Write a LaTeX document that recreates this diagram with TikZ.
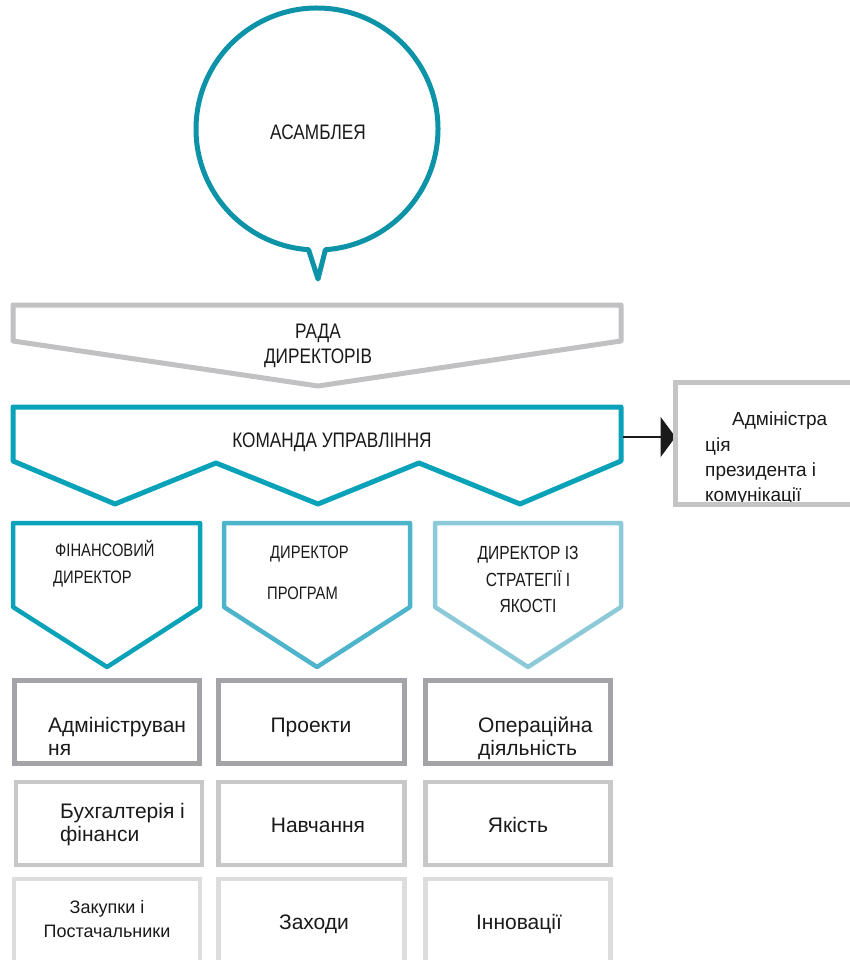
\documentclass[tikz,border=0pt]{standalone}
\usepackage{fontspec}
\setmainfont{Liberation Sans}
\newfontfamily\narrowfont[FakeStretch=0.82]{Liberation Sans}
\usetikzlibrary{arrows.meta}

\definecolor{tealdark}{HTML}{0D93A8}
\definecolor{tealmid}{HTML}{0AA2B9}
\definecolor{teallight}{HTML}{4DB4CB}
\definecolor{tealpale}{HTML}{8CCADA}
\definecolor{greyboard}{HTML}{C1C1C3}
\definecolor{greyrowA}{HTML}{A4A4A8}
\definecolor{greyrowB}{HTML}{C8C8C8}
\definecolor{greyrowC}{HTML}{DDDDDD}
\definecolor{greyside}{HTML}{C4C4C4}
\definecolor{inkcol}{HTML}{1A1A1A}

\tikzset{
  outline/.style={line join=round, line cap=round, fill=white},
  capstext/.style={inner sep=0pt, text=inkcol, font=\narrowfont\fontsize{21}{25}\selectfont},
  headtext/.style={inner sep=0pt, text=inkcol, font=\narrowfont\fontsize{18}{22}\selectfont},
  headtextbig/.style={inner sep=0pt, text=inkcol, font=\narrowfont\fontsize{19}{23}\selectfont},
  unittext/.style={inner sep=0pt, text=inkcol, font=\fontsize{21}{25}\selectfont},
  smalltext/.style={inner sep=0pt, text=inkcol, font=\fontsize{18}{22}\selectfont},
  sidetext/.style={inner sep=0pt, text=inkcol, font=\fontsize{19}{23}\selectfont},
  rowA/.style={draw=greyrowA, line width=5pt, fill=white},
  rowB/.style={draw=greyrowB, line width=4.5pt, fill=white},
  rowC/.style={draw=greyrowC, line width=4.5pt, fill=white},
}

\begin{document}
\begin{tikzpicture}[x=1pt, y=-1pt]
\useasboundingbox (0,0) rectangle (850,960);
\clip (0,0) rectangle (850,960);

% assembly speech bubble
\draw[outline, draw=tealdark, line width=5pt]
  (317,129) ++(94:121) arc[start angle=94, end angle=446, radius=121]
  -- (318,279) -- cycle;
\node[capstext, anchor=base] (assembly) at (318,140) {АСАМБЛЕЯ};

% board of directors banner
\draw[outline, draw=greyboard, line width=5pt]
  (13,305) -- (621,305) -- (621,341) -- (318,386) -- (13,341) -- cycle;
\node[capstext, anchor=base] (board1) at (318,338) {РАДА};
\node[capstext, anchor=base] (board2) at (318,363) {ДИРЕКТОРІВ};

% management team banner
\draw[outline, draw=tealmid, line width=5pt]
  (13,407) -- (621,407) -- (621,461) -- (520,504) -- (419,463)
  -- (318,504) -- (216,463) -- (115,504) -- (13,461) -- cycle;
\node[capstext, anchor=base] (team) at (332,447) {КОМАНДА УПРАВЛІННЯ};
\coordinate (teamright) at (623,437);

% president's office box: white ground, text, then frame over the text
\node[fill=white, minimum width=200pt, minimum height=122pt,
      anchor=north west, inner sep=0pt, outer sep=0pt] (office) at (675.5,382.5) {};
\node[sidetext, anchor=base west] (office1) at (732,425) {Адміністра};
\node[sidetext, anchor=base west] (office2) at (705,451) {ція};
\node[sidetext, anchor=base west] (office3) at (705,476) {президента і};
\node[sidetext, anchor=base west] (office4) at (705,501) {комунікації};
\draw[draw=greyside, line width=5pt] (office.north west) rectangle (office.south east);
\draw[line width=2.5pt, draw=inkcol,
      -{Triangle[length=15pt, width=40pt, fill=inkcol]}]
  (teamright) -- (teamright -| office.west);
\draw[draw=greyside, line width=5pt] (office.north west) -- (office.south west);

% director pentagons
\draw[outline, draw=tealmid, line width=4.5pt]
  (13,523) -- (200,523) -- (200,607) -- (107,667) -- (13,607) -- cycle;
\draw[outline, draw=teallight, line width=4.5pt]
  (224,523) -- (410,523) -- (410,607) -- (317,667) -- (224,607) -- cycle;
\draw[outline, draw=tealpale, line width=4.5pt]
  (435,523) -- (621,523) -- (621,607) -- (528,667) -- (435,607) -- cycle;

\node[headtext, anchor=base west] (cfo1) at (55,556) {ФІНАНСОВИЙ};
\node[headtext, anchor=base west] (cfo2) at (53,583) {ДИРЕКТОР};
\node[headtext, anchor=base west] (prog1) at (270,558) {ДИРЕКТОР};
\node[headtext, anchor=base west] (prog2) at (267,599) {ПРОГРАМ};
\node[headtextbig, anchor=base] (strat1) at (528,559) {ДИРЕКТОР ІЗ};
\node[headtextbig, anchor=base] (strat2) at (528,586) {СТРАТЕГІЇ І};
\node[headtextbig, anchor=base] (strat3) at (528,612) {ЯКОСТІ};

% department boxes, first row
\draw[rowA] (14.5,680.5) rectangle (199.5,763);
\draw[rowA] (218.5,680.5) rectangle (404.5,763);
\draw[rowA] (425.5,680.5) rectangle (610.5,763);
\node[unittext, anchor=base west] (admin1) at (48,732) {Адмініструван};
\node[unittext, anchor=base west] (admin2) at (48,755) {ня};
\node[unittext, anchor=base] (projects) at (311,732) {Проекти};
\node[unittext, anchor=base west] (ops1) at (478,732) {Операційна};
\node[unittext, anchor=base west] (ops2) at (478,755) {діяльність};

% second row
\draw[rowB] (16,782) rectangle (202,865);
\draw[rowB] (218.5,782) rectangle (404.5,865);
\draw[rowB] (425.5,782) rectangle (610.5,865);
\node[unittext, anchor=base west] (acc1) at (60,818) {Бухгалтерія і};
\node[unittext, anchor=base west] (acc2) at (60,841) {фінанси};
\node[unittext, anchor=base] (training) at (318,832) {Навчання};
\node[unittext, anchor=base] (quality) at (518,832) {Якість};

% third row
\draw[rowC] (14,879) rectangle (200,980);
\draw[rowC] (218.5,879) rectangle (404.5,980);
\draw[rowC] (425.5,879) rectangle (610.5,980);
\node[smalltext, anchor=base] (buy1) at (107,913) {Закупки і};
\node[smalltext, anchor=base] (buy2) at (107,937) {Постачальники};
\node[unittext, anchor=base] (events) at (314,929) {Заходи};
\node[unittext, anchor=base] (innov) at (519,929) {Інновації};
\end{tikzpicture}
\end{document}
